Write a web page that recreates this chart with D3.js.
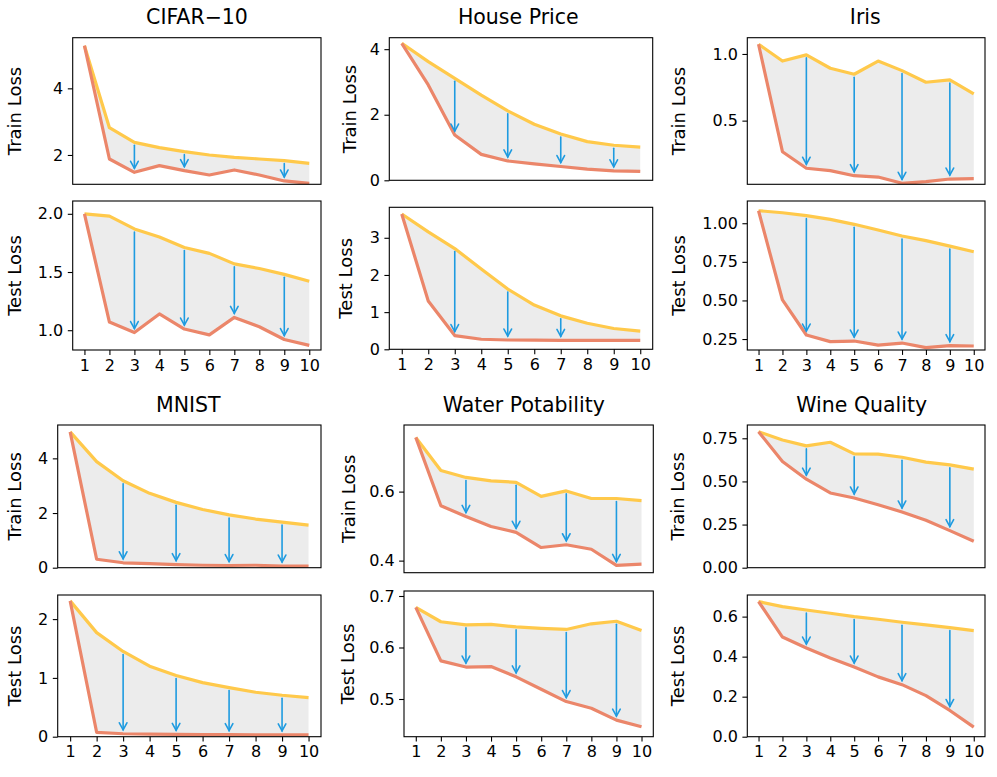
<!DOCTYPE html>
<html><head><meta charset="utf-8">
<script src="https://cdn.jsdelivr.net/npm/d3@7"></script>
<style>body{margin:0;background:#fff} svg{display:block;font-family:"DejaVu Sans",sans-serif}</style>
</head><body>
<svg id="c" width="997" height="777"></svg>
<script>
// ---------- data ----------
const epochs = [1,2,3,4,5,6,7,8,9,10];
const arrowEpochs = [3,5,7,9];
const datasets = ["CIFAR\u221210","House Price","Iris","MNIST","Water Potability","Wine Quality"];

const cifarTrainUpper = [5.28,2.82,2.38,2.22,2.10,2.00,1.93,1.88,1.83,1.75];
const cifarTrainLower = [5.28,1.88,1.48,1.68,1.53,1.40,1.55,1.40,1.22,1.15];
const cifarTestUpper  = [2.00,1.98,1.87,1.80,1.71,1.66,1.57,1.53,1.48,1.42];
const cifarTestLower  = [2.00,1.07,0.98,1.14,1.01,0.96,1.11,1.03,0.92,0.87];

const houseTrainUpper = [4.18,3.62,3.11,2.60,2.12,1.71,1.41,1.18,1.07,1.01];
const houseTrainLower = [4.18,2.91,1.38,0.79,0.59,0.50,0.42,0.34,0.29,0.27];
const houseTestUpper  = [3.64,3.16,2.71,2.16,1.62,1.19,0.90,0.70,0.56,0.49];
const houseTestLower  = [3.64,1.30,0.37,0.27,0.25,0.245,0.24,0.24,0.24,0.24];

const irisTrainUpper = [1.073,0.947,0.993,0.893,0.848,0.947,0.875,0.788,0.805,0.700];
const irisTrainLower = [1.073,0.267,0.143,0.125,0.087,0.077,0.030,0.042,0.062,0.065];
const irisTestUpper  = [1.081,1.068,1.049,1.025,0.993,0.956,0.917,0.887,0.852,0.815];
const irisTestLower  = [1.081,0.503,0.276,0.233,0.237,0.211,0.224,0.194,0.207,0.205];

const mnistTrainUpper = [4.97,3.88,3.18,2.72,2.39,2.13,1.93,1.78,1.67,1.56];
const mnistTrainLower = [4.97,0.31,0.18,0.15,0.11,0.09,0.08,0.09,0.06,0.06];
const mnistTestUpper  = [2.31,1.77,1.45,1.20,1.04,0.92,0.835,0.756,0.705,0.665];
const mnistTestLower  = [2.31,0.075,0.05,0.045,0.04,0.035,0.035,0.03,0.03,0.03];

const waterTrainUpper = [0.757,0.661,0.641,0.631,0.627,0.586,0.602,0.580,0.580,0.574];
const waterTrainLower = [0.757,0.559,0.528,0.499,0.482,0.438,0.446,0.433,0.386,0.390];
const waterTestUpper  = [0.678,0.650,0.644,0.645,0.640,0.637,0.635,0.646,0.651,0.633];
const waterTestLower  = [0.678,0.574,0.562,0.563,0.543,0.519,0.495,0.482,0.459,0.446];

const wineTrainUpper = [0.788,0.740,0.706,0.727,0.660,0.658,0.640,0.612,0.596,0.571];
const wineTrainLower = [0.788,0.615,0.513,0.433,0.404,0.365,0.323,0.275,0.215,0.153];
const wineTestUpper  = [0.675,0.650,0.633,0.617,0.600,0.587,0.572,0.559,0.545,0.530];
const wineTestLower  = [0.675,0.498,0.443,0.393,0.348,0.299,0.260,0.205,0.131,0.048];

// y-axis tick values per panel
const cifarTrainTicks = [2,4],  cifarTestTicks = [1.0,1.5,2.0];
const houseTrainTicks = [0,2,4], houseTestTicks = [0,1,2,3];
const irisTrainTicks = [0.5,1.0], irisTestTicks = [0.25,0.50,0.75,1.00];
const mnistTrainTicks = [0,2,4], mnistTestTicks = [0,1,2];
const waterTrainTicks = [0.4,0.6], waterTestTicks = [0.5,0.6,0.7];
const wineTrainTicks = [0.00,0.25,0.50,0.75], wineTestTicks = [0.0,0.2,0.4,0.6];

// y limits per panel
const yLimits = {
  cifarTrain:[1.12,5.52], cifarTest:[0.83,2.11],
  houseTrain:[0,4.35], houseTest:[0,3.82],
  irisTrain:[0.0225,1.122], irisTest:[0.179,1.144],
  mnistTrain:[0,5.22], mnistTest:[0,2.41],
  waterTrain:[0.365,0.793], waterTest:[0.4268,0.7097],
  wineTrain:[0,0.827], wineTest:[0,0.708]
};

// ---------- layout (pixel boxes: left, top, right, bottom) ----------
const panels = [
  {key:"cifarTrain", up:cifarTrainUpper, lo:cifarTrainLower, ticks:cifarTrainTicks, fmt:".0f", label:"Train Loss", box:[72.7,37.7,321,184.3], xt:false, lx:14},
  {key:"cifarTest",  up:cifarTestUpper,  lo:cifarTestLower,  ticks:cifarTestTicks,  fmt:".1f", label:"Test Loss",  box:[72.7,201,321,350], xt:true, lx:14},
  {key:"houseTrain", up:houseTrainUpper, lo:houseTrainLower, ticks:houseTrainTicks, fmt:".0f", label:"Train Loss", box:[389.3,37.7,652.7,180.3], xt:false, lx:349.5},
  {key:"houseTest",  up:houseTestUpper,  lo:houseTestLower,  ticks:houseTestTicks,  fmt:".0f", label:"Test Loss",  box:[389.3,207.3,652.7,349.3], xt:true, lx:345.5},
  {key:"irisTrain",  up:irisTrainUpper,  lo:irisTrainLower,  ticks:irisTrainTicks,  fmt:".1f", label:"Train Loss", box:[747.3,37.7,985,184.3], xt:false, lx:678},
  {key:"irisTest",   up:irisTestUpper,   lo:irisTestLower,   ticks:irisTestTicks,   fmt:".2f", label:"Test Loss",  box:[747.3,201,985,350], xt:true, lx:678},
  {key:"mnistTrain", up:mnistTrainUpper, lo:mnistTrainLower, ticks:mnistTrainTicks, fmt:".0f", label:"Train Loss", box:[57.7,425,321,567.7], xt:false, lx:14},
  {key:"mnistTest",  up:mnistTestUpper,  lo:mnistTestLower,  ticks:mnistTestTicks,  fmt:".0f", label:"Test Loss",  box:[57.7,595,321,736.7], xt:true, lx:14},
  {key:"waterTrain", up:waterTrainUpper, lo:waterTrainLower, ticks:waterTrainTicks, fmt:".1f", label:"Train Loss", box:[404,425,653.3,572.7], xt:false, lx:348},
  {key:"waterTest",  up:waterTestUpper,  lo:waterTestLower,  ticks:waterTestTicks,  fmt:".1f", label:"Test Loss",  box:[404,591,653.3,736.7], xt:true, lx:347},
  {key:"wineTrain",  up:wineTrainUpper,  lo:wineTrainLower,  ticks:wineTrainTicks,  fmt:".2f", label:"Train Loss", box:[747.3,425,985,567.7], xt:false, lx:677.5},
  {key:"wineTest",   up:wineTestUpper,   lo:wineTestLower,   ticks:wineTestTicks,   fmt:".1f", label:"Test Loss",  box:[747.3,595,985,736.7], xt:true, lx:677.5}
];
const titlePos = [[197,24],[518.3,24],[865.3,24],[188.3,411.7],[523.8,411.7],[861.7,411.7]];

const C_UP = "#ffc94b", C_LO = "#eb866a", C_FILL = "#ececec", C_ARROW = "#1e9be0";
const MIN_ARROW_GAP = 15; // arrows too short to draw are omitted

const svg = d3.select("#c");

svg.selectAll("text.title").data(datasets).join("text")
  .attr("class","title")
  .attr("x",(d,i)=>titlePos[i][0]).attr("y",(d,i)=>titlePos[i][1])
  .attr("text-anchor","middle").attr("font-size","20.5px").attr("fill","#000")
  .text(d=>d);

panels.forEach((p,pi)=>{
  const [L,T,R,B] = p.box;
  const x = d3.scaleLinear().domain([1-0.47,10+0.47]).range([L,R]);
  const y = d3.scaleLinear().domain(yLimits[p.key]).range([B,T]);
  const g = svg.append("g");
  const cid = "clip"+pi;
  g.append("clipPath").attr("id",cid).append("rect").attr("x",L).attr("y",T).attr("width",R-L).attr("height",B-T);
  const plot = g.append("g").attr("clip-path",`url(#${cid})`);

  const rows = epochs.map((e,i)=>({e, u:p.up[i], l:p.lo[i]}));
  plot.append("path").datum(rows)
    .attr("d", d3.area().x(d=>x(d.e)).y0(d=>y(d.l)).y1(d=>y(d.u)))
    .attr("fill", C_FILL);
  plot.append("path").datum(rows)
    .attr("d", d3.line().x(d=>x(d.e)).y(d=>y(d.u)))
    .attr("fill","none").attr("stroke",C_UP).attr("stroke-width",3.2).attr("stroke-linejoin","round");
  plot.append("path").datum(rows)
    .attr("d", d3.line().x(d=>x(d.e)).y(d=>y(d.l)))
    .attr("fill","none").attr("stroke",C_LO).attr("stroke-width",3.2).attr("stroke-linejoin","round");

  arrowEpochs.forEach(e=>{
    const i = epochs.indexOf(e);
    if (y(p.lo[i]) - y(p.up[i]) < MIN_ARROW_GAP) return;
    const ax = x(e), y0 = y(p.up[i]) + 3, y1 = y(p.lo[i]) - 4;
    const a = g.append("g").attr("stroke",C_ARROW).attr("stroke-width",1.6).attr("fill","none").attr("stroke-linecap","round");
    a.append("line").attr("x1",ax).attr("x2",ax).attr("y1",y0).attr("y2",y1);
    a.append("path").attr("d",`M${ax-3.8},${y1-7} L${ax},${y1} L${ax+3.8},${y1-7}`);
  });

  // y axis
  const ya = g.append("g").attr("transform",`translate(${L},0)`)
    .call(d3.axisLeft(y).tickValues(p.ticks).tickFormat(d3.format(p.fmt)).tickSize(4.9).tickPadding(4.5));
  ya.select(".domain").remove();
  ya.selectAll("line").attr("stroke","#000").attr("stroke-width",1.1);
  ya.selectAll("text").attr("font-size","16px").attr("fill","#000").attr("font-family","DejaVu Sans");

  if (p.xt) {
    const xa = g.append("g").attr("transform",`translate(0,${B})`)
      .call(d3.axisBottom(x).tickValues(epochs).tickFormat(d3.format("d")).tickSize(4.9).tickPadding(4.5));
    xa.select(".domain").remove();
    xa.selectAll("line").attr("stroke","#000").attr("stroke-width",1.1);
    xa.selectAll("text").attr("font-size","16px").attr("fill","#000").attr("font-family","DejaVu Sans");
  }

  g.append("rect").attr("x",L).attr("y",T).attr("width",R-L).attr("height",B-T)
    .attr("fill","none").attr("stroke","#000").attr("stroke-width",1.1);

  g.append("text").attr("transform",`translate(${p.lx+6.5},${(T+B)/2}) rotate(-90)`)
    .attr("text-anchor","middle").attr("font-size","18px").attr("fill","#000").text(p.label);
});
</script>
</body></html>
